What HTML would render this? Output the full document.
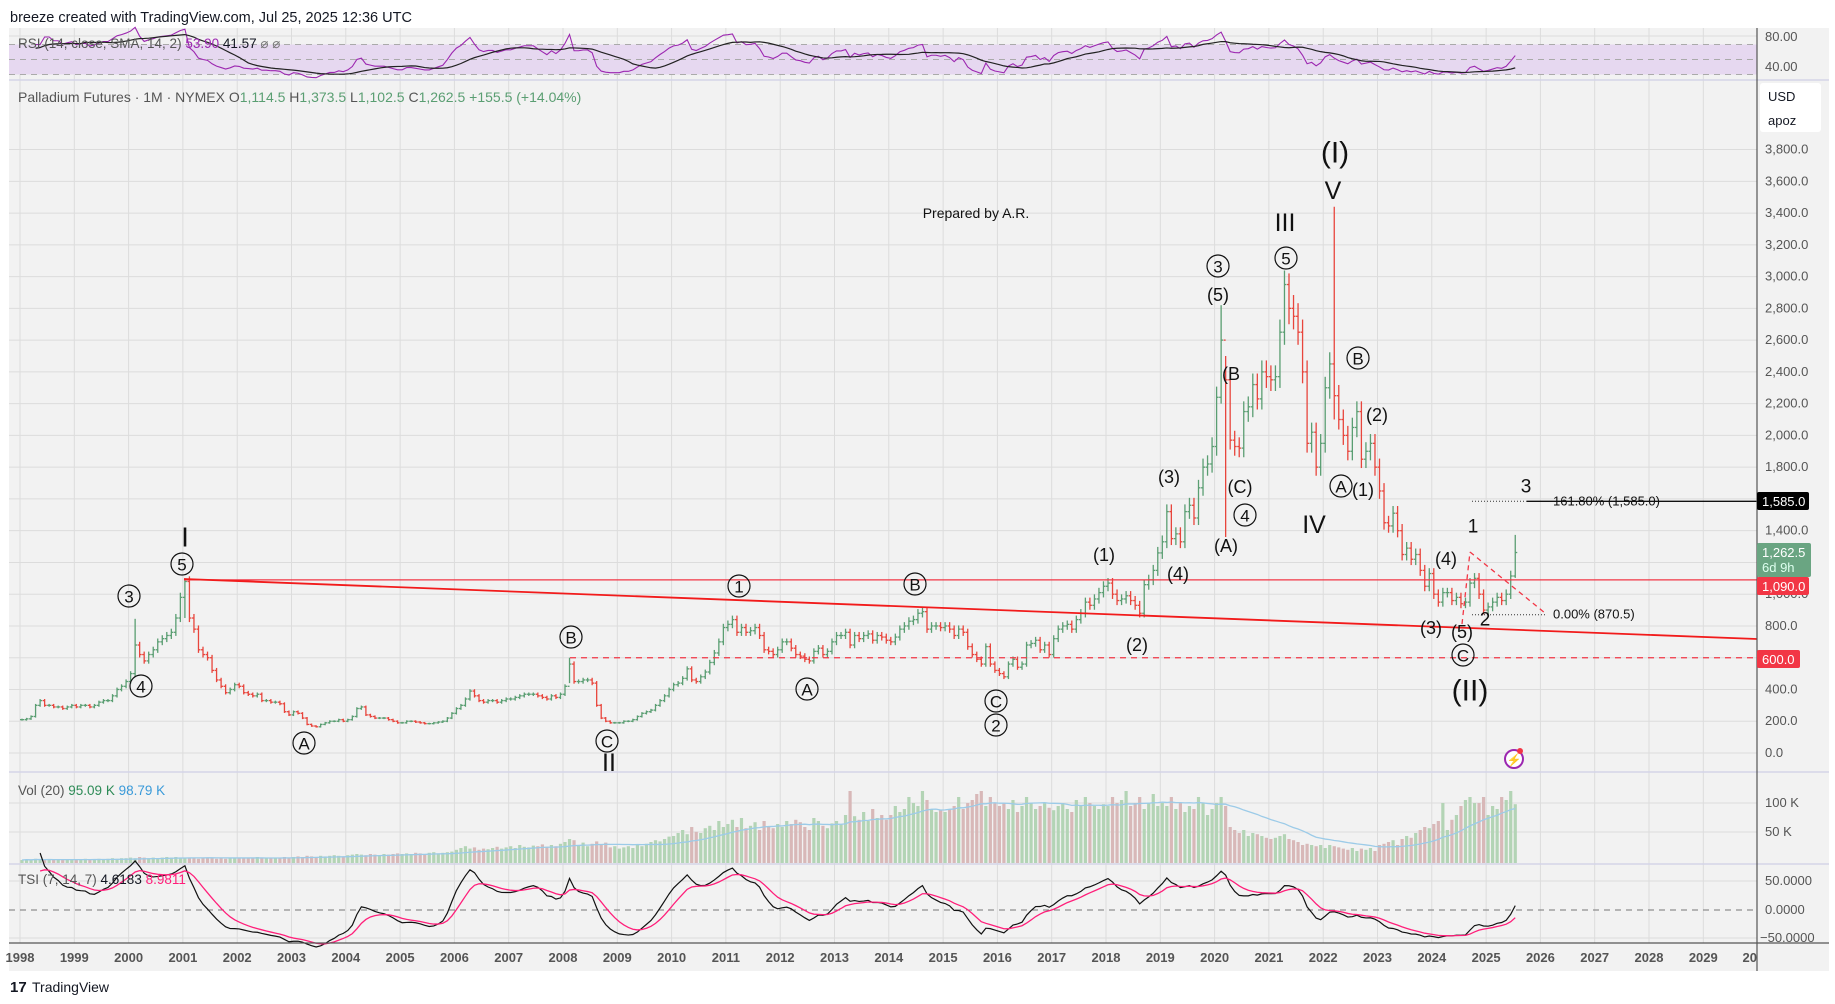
<!DOCTYPE html>
<html><head><meta charset="utf-8">
<style>
html,body{margin:0;padding:0;background:#fff;}
svg{display:block;font-family:"Liberation Sans",Arial,sans-serif;}
.ax{font-size:13px;fill:#555;}
.w{fill:#111;text-anchor:middle;dominant-baseline:central;}
</style></head>
<body>
<svg id="chart" width="1835" height="1004" viewBox="0 0 1835 1004" xmlns="http://www.w3.org/2000/svg">
<rect width="1835" height="1004" fill="#fff"/>
<text x="10" y="22" font-size="14.5" fill="#131722">breeze created with TradingView.com, Jul 25, 2025 12:36 UTC</text>
<rect x="9" y="28" width="1820" height="943" fill="#f2f2f2"/>
<g id="grid"></g>
<g id="rsi"></g>
<g id="vol"></g>
<g id="tsi"></g>
<g id="price"></g>
<g id="anno"></g>
<g id="axes"></g>
<g>
<text x="10" y="992" font-size="15" font-weight="bold" fill="#131722">17</text>
<text x="32" y="992" font-size="14" fill="#131722">TradingView</text>
</g>
</svg>
<script>
const closes=[
210,215,230,300,330,300,300,290,290,280,290,300,
290,300,300,290,300,320,330,330,360,400,420,450,
500,680,620,580,620,650,700,720,740,760,850,980,
1080,850,780,650,620,600,520,460,420,380,400,430,
420,380,370,360,370,330,330,320,320,310,260,240,
260,250,220,180,170,165,180,190,200,200,210,200,
210,230,280,290,240,230,220,220,220,210,200,190,
190,200,200,195,190,185,185,190,195,200,220,250,
280,300,340,390,360,330,320,330,330,320,330,340,
340,350,360,370,370,370,360,350,340,360,350,370,
420,560,450,450,460,460,440,300,220,200,190,190,
190,200,200,210,230,250,260,270,300,330,360,400,
430,440,470,530,460,450,480,510,570,630,700,790,
810,840,760,790,760,770,790,740,650,640,620,650,
700,700,660,620,610,590,580,640,660,620,640,700,
740,740,760,680,740,720,740,750,710,740,730,710,
700,730,780,800,830,840,880,890,780,800,800,790,
800,780,740,780,760,670,620,590,560,670,560,520,
500,480,560,590,540,560,680,690,710,650,680,620,
720,780,800,810,780,840,880,950,930,970,1010,1050,
1070,1000,960,970,990,960,930,880,1060,1090,1150,1260,
1330,1520,1350,1380,1330,1520,1560,1480,1670,1800,1820,1930,
2240,2600,2350,1970,1930,1920,2150,2180,2320,2230,2400,2370,
2350,2370,2650,2950,2800,2750,2650,2400,1950,2020,1800,1950,
2300,2450,2250,2100,2000,1900,2050,2150,1850,1900,1950,1800,
1650,1450,1430,1510,1400,1250,1290,1220,1250,1150,1050,1130,
1000,950,1010,1010,960,980,940,950,1070,1100,1000,900,
920,950,980,960,1000,1114.5,1262.5];
const volumesK=[
5,6,5,7,6,5,6,5,6,5,6,5, 6,5,7,6,6,7,6,7,8,7,8,8, 9,8,10,9,8,9,8,9,10,9,10,9,
8,9,8,7,8,9,8,7,8,7,8,9, 9,8,9,8,10,9,8,9,8,9,10,9, 10,11,10,12,11,10,12,11,12,13,12,11,
13,14,15,14,13,15,14,13,15,14,15,16, 15,16,15,17,16,15,17,18,16,17,18,19,
22,25,28,24,26,22,24,23,25,27,24,26, 28,25,30,27,26,29,28,31,27,30,28,32,
35,40,38,30,34,28,32,36,30,34,26,28, 24,26,28,25,30,28,32,35,38,36,40,44,
45,50,55,48,60,52,50,58,62,55,70,60, 65,72,60,75,58,62,68,55,70,60,58,65,
60,70,65,72,68,60,55,75,70,62,58,66, 70,65,80,120,78,72,85,70,90,75,80,72,
80,95,85,90,110,100,95,120,105,90,85,88, 85,90,95,110,90,100,105,115,120,95,110,100,
95,100,90,105,85,95,110,100,90,95,100,92, 88,95,100,90,85,105,95,110,100,95,90,98,
95,110,100,105,120,95,100,110,90,100,115,95, 100,95,110,90,100,85,95,90,110,100,80,90,
100,110,95,60,55,50,55,45,50,48,45,42, 40,42,45,48,40,38,35,30,32,30,28,30,
25,30,28,26,24,22,25,20,24,22,25,20, 30,32,35,38,30,40,45,42,50,55,60,58,
65,70,100,55,72,80,95,105,110,100,100,110, 80,95,90,110,105,120,98];
const spikeIdx=[25,36,121,265,266,280,290,330];
const spikeHigh=[845,1100,600,2820,2500,3020,3440,1373.5];
const spikeLow=[480,850,440,2200,1360,2700,2100,1102.5];
const priceTicks=[0,200,400,600,800,1000,1200,1400,1600,1800,2000,2200,2400,2600,2800,3000,3200,3400,3600,3800];
const yearLabels=["1998","1999","2000","2001","2002","2003","2004","2005","2006","2007","2008","2009","2010","2011","2012","2013","2014","2015","2016","2017","2018","2019","2020","2021","2022","2023","2024","2025","2026","2027","2028","2029","2030"];

const NS="http://www.w3.org/2000/svg";
function mk(tag,attrs,parent,text){const e=document.createElementNS(NS,tag);for(const k in attrs)e.setAttribute(k,attrs[k]);if(text!==undefined)e.textContent=text;parent.appendChild(e);return e;}
const RIGHT=1757;
const xYear=y=>20+(y-1998)*54.3;
const xIdx=i=>20+i*54.3/12+2;
const yP=p=>753-p*0.1588;
const yRsi=r=>67-(r-40)*0.75;
const yVol=v=>863-v*0.6;
const yTsi=t=>910-t*0.57;

const grid=document.getElementById('grid');
yearLabels.forEach((l,k)=>{const x=xYear(1998+k);if(x>RIGHT)return;
 const ln=mk('line',{x1:x,x2:x,y1:28,y2:943,stroke:'#dcdcdc','stroke-width':1},grid);
 });
priceTicks.forEach(p=>{const ln=mk('line',{x1:9,x2:RIGHT,y1:yP(p),y2:yP(p),stroke:'#dcdcdc','stroke-width':1},grid);
 });
[[36],[67],[803],[832],[881],[938]].forEach(a=>{const ln=mk('line',{x1:9,x2:RIGHT,y1:a[0],y2:a[0],stroke:'#dcdcdc'},grid);
 });
[80,772,864].forEach(y=>{const ln=mk('line',{x1:9,x2:1829,y1:y,y2:y,stroke:'#d4d4e8','stroke-width':1.5},grid);
 });

// OHLC
const opens=closes.map((c,i)=>i?closes[i-1]:c);
const pg=document.getElementById('price');
closes.forEach((c,i)=>{const o=opens[i];let hi=Math.max(o,c)*1.03,lo=Math.min(o,c)*0.97;
 const s=spikeIdx.indexOf(i);if(s>=0){hi=spikeHigh[s];lo=spikeLow[s];}
 const x=xIdx(i),col=c>=o?'#5a9e72':'#e8453c';
 const g=mk('g',{stroke:col,'stroke-width':1.3},pg);
 
 mk('line',{x1:x,x2:x,y1:yP(hi),y2:yP(lo)},g);
 mk('line',{x1:x-2,x2:x,y1:yP(o),y2:yP(o)},g);
 mk('line',{x1:x,x2:x+2,y1:yP(c),y2:yP(c)},g);});

// Volume
const vg=document.getElementById('vol');
volumesK.forEach((v,i)=>{const up=closes[i]>=opens[i];
 const r=mk('rect',{x:xIdx(i)-1.6,y:yVol(v),width:3.2,height:863-yVol(v),fill:up?'#b3d4b5':'#d8b8b8'},vg);
 });
let vma=[];volumesK.forEach((v,i)=>{const a=volumesK.slice(Math.max(0,i-19),i+1);vma.push(a.reduce((s,b)=>s+b,0)/a.length);});
const vl=mk('polyline',{points:vma.map((v,i)=>xIdx(i)+','+yVol(v)).join(' '),fill:'none',stroke:'#9ccbe8','stroke-width':1.3},vg);


// RSI
const rg=document.getElementById('rsi');
const band=mk('rect',{x:9,y:yRsi(70),width:RIGHT-9,height:yRsi(30)-yRsi(70),fill:'#e6d8f0'},rg);

[70,50,30].forEach(r=>{const l=mk('line',{x1:9,x2:RIGHT,y1:yRsi(r),y2:yRsi(r),stroke:'#aaa','stroke-dasharray':'6 5'},rg);
 });
let rsi=[],ag=0,al=0;
closes.forEach((c,i)=>{if(i===0){rsi.push(50);return;}const d=c-closes[i-1];const g=Math.max(d,0),l=Math.max(-d,0);
 if(i<=14){ag=(ag*(i-1)+g)/i;al=(al*(i-1)+l)/i;}else{ag=(ag*13+g)/14;al=(al*13+l)/14;}
 rsi.push(al===0?70:100-100/(1+ag/al));});
const rsma=rsi.map((r,i)=>{const a=rsi.slice(Math.max(0,i-13),i+1);return a.reduce((s,b)=>s+b,0)/a.length;});
const pts=(arr,f,start)=>arr.map((v,i)=>i<start?null:xIdx(i)+','+f(v)).filter(Boolean).join(' ');
const rl=mk('polyline',{points:pts(rsi,r=>yRsi(Math.min(r,93)),3),fill:'none',stroke:'#9c27b0','stroke-width':1.1},rg);

const rs=mk('polyline',{points:pts(rsma,yRsi,3),fill:'none',stroke:'#222','stroke-width':1.2},rg);


// TSI
const tg=document.getElementById('tsi');
const z=mk('line',{x1:9,x2:RIGHT,y1:yTsi(0),y2:yTsi(0),stroke:'#777','stroke-dasharray':'6 5'},tg);

function ema(a,n){const k=2/(n+1);let o=[],p=a[0];a.forEach(v=>{p=v*k+p*(1-k);o.push(p);});return o;}
const mom=closes.map((c,i)=>i?c-closes[i-1]:0);
const ds=ema(ema(mom,14),7),da=ema(ema(mom.map(Math.abs),14),7);
const tsi=ds.map((v,i)=>da[i]?100*v/da[i]:0),sig=ema(tsi,7);
const tl=mk('polyline',{points:pts(tsi,yTsi,4),fill:'none',stroke:'#111','stroke-width':1.2},tg);

const ts=mk('polyline',{points:pts(sig,yTsi,4),fill:'none',stroke:'#ff1f7a','stroke-width':1.3},tg);


// Annotations
const an=document.getElementById('anno');
function ln(a,n){const e=mk('line',a,an);}
ln({x1:184,y1:yP(1090),x2:RIGHT,y2:yP(1090),stroke:'#f23645','stroke-width':1.3},'resistance-1090-line');
ln({x1:184,y1:579,x2:RIGHT,y2:639,stroke:'#f21b1b','stroke-width':1.8},'trendline');
ln({x1:570,y1:yP(600),x2:RIGHT,y2:yP(600),stroke:'#f23645','stroke-width':1.3,'stroke-dasharray':'6 5'},'support-600-line');
ln({x1:1472,y1:yP(1585),x2:1527,y2:yP(1585),stroke:'#333','stroke-dasharray':'1 2'},'fib-dotted-line');
ln({x1:1527,y1:yP(1585),x2:RIGHT,y2:yP(1585),stroke:'#111','stroke-width':1.4},'fib-1618-line');
ln({x1:1472,y1:yP(870.5),x2:1545,y2:yP(870.5),stroke:'#333','stroke-dasharray':'1 2'},'fib-zero-line');
ln({x1:1470,y1:552,x2:1545,y2:613,stroke:'#f23645','stroke-dasharray':'5 4','stroke-width':1.3},'dashed-projection');
ln({x1:1462,y1:624,x2:1470,y2:552,stroke:'#f23645','stroke-dasharray':'5 4','stroke-width':1.3},'dashed-projection-left');
function txt(x,y,t,n,fs){const e=mk('text',{x:x,y:y,class:'w',style:'font-size:'+(fs||18)+'px'},an,t);return e;}
function circ(x,y,t,n){const g=mk('g',{},an);
 mk('circle',{cx:x,cy:y,r:11,fill:'none',stroke:'#111','stroke-width':1.2},g);
 mk('text',{x:x,y:y+1,class:'w',style:'font-size:17px'},g,t);}
txt(976,213,'Prepared by A.R.','prepared-by-label',14);
txt(1335,153,'(I)','wave-I-label',30);txt(1333,191,'V','wave-V-label',25);txt(1285,223,'III','wave-III-label',25);
circ(1286,258,'5','wave-5-circle-top');circ(1218,266,'3','wave-3-circle-top');txt(1218,295,'(5)','wave-5-paren');
txt(1231,374,'(B','wave-B-paren');txt(1240,487,'(C)','wave-C-paren');circ(1245,515,'4','wave-4-circle-top');
txt(1226,546,'(A)','wave-A-paren');txt(1169,477,'(3)','wave-3-paren');txt(1178,574,'(4)','wave-4-paren');
txt(1104,555,'(1)','wave-1-paren');txt(1137,645,'(2)','wave-2-paren');txt(1314,525,'IV','wave-IV-label',25);
circ(1358,358,'B','wave-B-circle-right');txt(1377,415,'(2)','wave-2-paren-right');circ(1341,486,'A','wave-A-circle-right');
txt(1363,490,'(1)','wave-1-paren-right');txt(1446,559,'(4)','wave-4-paren-right');txt(1473,527,'1','wave-1-label',19);
txt(1526,487,'3','wave-3-label',19);txt(1485,620,'2','wave-2-label',19);txt(1431,628,'(3)','wave-3-paren-right');
txt(1462,632,'(5)','wave-5-paren-right');circ(1463,655,'C','wave-C-circle-right');txt(1470,691,'(II)','wave-II-paren-label',30);
txt(185,537,'I','wave-I-left',28);circ(182,564,'5','wave-5-circle-left');circ(129,596,'3','wave-3-circle-left');
circ(141,686,'4','wave-4-circle-left');circ(304,743,'A','wave-A-circle-left');circ(571,637,'B','wave-B-circle-mid');
circ(607,741,'C','wave-C-circle-mid');txt(609,763,'II','wave-II-label',25);circ(739,586,'1','wave-1-circle-mid');
circ(915,584,'B','wave-B-circle-2014');circ(807,689,'A','wave-A-circle-2012');circ(996,701,'C','wave-C-circle-2016');
circ(996,725,'2','wave-2-circle-2016');
txt(1553,501,'161.80% (1,585.0)','fib-1618-label',13).style.textAnchor='start';
txt(1553,614,'0.00% (870.5)','fib-zero-label',13).style.textAnchor='start';
const fl=mk('g',{},an);
mk('circle',{cx:1514,cy:759,r:9,fill:'#fff',stroke:'#9c27b0','stroke-width':2},fl);
mk('text',{x:1514,y:764,'font-size':12,fill:'#9c27b0','text-anchor':'middle'},fl,'⚡');
mk('circle',{cx:1520,cy:751,r:3,fill:'#f23645'},fl);

// Axes
const axg=document.getElementById('axes');
const axl=mk('line',{x1:RIGHT,x2:RIGHT,y1:28,y2:971,stroke:'#555','stroke-width':1.2},axg);

const tax=mk('line',{x1:9,x2:1829,y1:943,y2:943,stroke:'#555','stroke-width':1.2},axg);

function at(x,y,t,n,extra){const e=mk('text',Object.assign({x:x,y:y,class:'ax'},extra||{}),axg,t);return e;}
priceTicks.forEach(p=>{if(p===600)return;at(1765,yP(p)+4,p.toLocaleString('en-US',{minimumFractionDigits:1}),'price-tick-label');});
at(1765,41,'80.00','rsi-tick-80');at(1765,71,'40.00','rsi-tick-40');
at(1765,807,'100 K','vol-tick-100k');at(1765,836,'50 K','vol-tick-50k');
at(1765,885,'50.0000','tsi-tick-50');at(1765,914,'0.0000','tsi-tick-0');at(1760,942,'−50.0000','tsi-tick-neg50');
yearLabels.forEach((l,k)=>{const x=xYear(1998+k);const e=at(x,962,l,'year-label',{'text-anchor':'middle','font-weight':'bold','fill':'#555'});
 if(x+16>RIGHT){e.textContent='20';e.setAttribute('text-anchor','end');e.setAttribute('x',RIGHT);}});
const ub=mk('g',{},axg);
mk('rect',{x:1760,y:83,width:61,height:49,rx:3,fill:'#fff'},ub);
mk('text',{x:1768,y:101,'font-size':13,fill:'#131722'},ub,'USD');
mk('text',{x:1768,y:125,'font-size':13,fill:'#131722'},ub,'apoz');
function badge(y,h,fill,lines,n,w){const g=mk('g',{},axg);
 mk('rect',{x:RIGHT,y:y,width:w||52,height:h,rx:2,fill:fill},g);
 lines.forEach((t,k)=>mk('text',{x:RIGHT+5,y:y+14+k*15,'font-size':13,fill:k?'#dfe':'#fff'},g,t));}
badge(492,18,'#000',['1,585.0'],'fib-price-badge',52);
badge(543,34,'#6aa582',['1,262.5','6d 9h'],'last-price-badge',54);
badge(577,18,'#f23645',['1,090.0'],'resistance-price-badge',52);
badge(650,18,'#f23645',['600.0'],'support-price-badge',43);
function lgs(x,y,parts,n,fs){const e=mk('text',{x:x,y:y,'font-size':fs||13.5},axg);
 parts.forEach(p=>mk('tspan',{fill:p[1]},e,p[0]));}
lgs(18,48,[['RSI (14, close, SMA, 14, 2) ','#555'],['53.90 ','#9c27b0'],['41.57 ','#131722'],[' ⌀ ⌀','#777']],'rsi-legend',13.5);
lgs(18,102,[['Palladium Futures · 1M · NYMEX  ','#555'],['O','#555'],['1,114.5  ','#5a9e72'],['H','#555'],['1,373.5  ','#5a9e72'],['L','#555'],['1,102.5  ','#5a9e72'],['C','#555'],['1,262.5  ','#5a9e72'],['+155.5 (+14.04%)','#5a9e72']],'symbol-legend',14);
lgs(18,795,[['Vol (20)  ','#555'],['95.09 K  ','#2e8b57'],['98.79 K','#3a9ad9']],'volume-legend',13.5);
lgs(18,884,[['TSI (7, 14, 7)  ','#555'],['4.6183  ','#131722'],['8.9811','#ff1f7a']],'tsi-legend',13.5);
</script>
</body></html>
